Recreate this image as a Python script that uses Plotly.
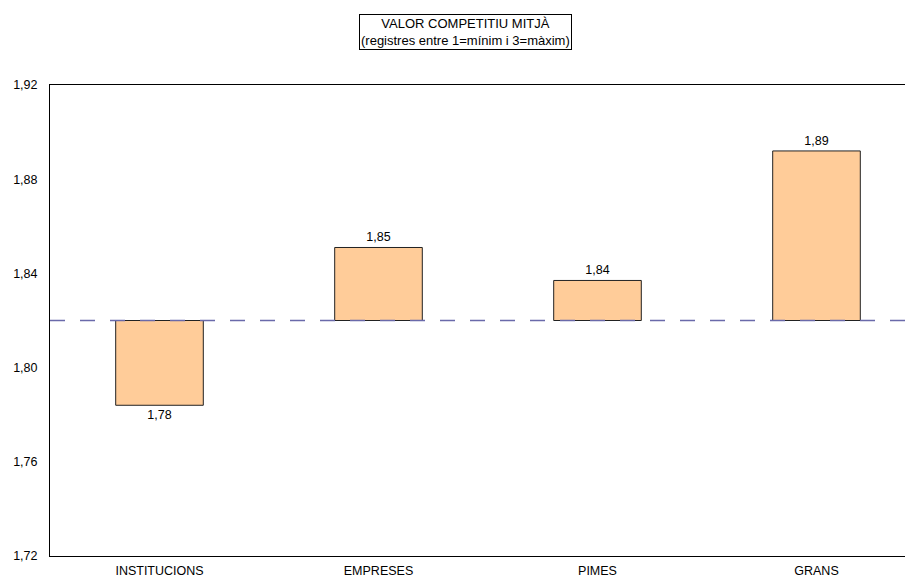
import plotly.graph_objects as go

categories = ["INSTITUCIONS", "EMPRESES", "PIMES", "GRANS"]
values = [1.784, 1.851, 1.837, 1.892]
reference_value = 1.82
y_ticks = [1.72, 1.76, 1.80, 1.84, 1.88, 1.92]
title_lines = ["VALOR COMPETITIU MITJÀ", "(registres entre 1=mínim i 3=màxim)"]

FONT = "Liberation Sans, Arial, sans-serif"
FS = 12.5

ML, MT, PW, PH = 42, 77, 871, 471

fig = go.Figure()
fig.add_trace(go.Bar(
    x=categories,
    y=[v - reference_value for v in values],
    base=reference_value,
    width=0.4,
    marker=dict(color="#FFCC99", line=dict(color="#222222", width=1)),
    text=[f"{v:.2f}".replace(".", ",") for v in values],
    textposition="outside",
    textfont=dict(family=FONT, size=FS, color="#000000"),
    cliponaxis=False,
    hoverinfo="skip",
))

fig.add_shape(type="line", xref="paper", yref="y", x0=0, x1=1,
              y0=reference_value, y1=reference_value,
              line=dict(color="#6a6aaa", width=1.5, dash="15px,15px"))

fig.add_annotation(
    xref="paper", yref="paper", x=(457 - ML) / PW, y=1 + (MT - 24) / PH,
    text="<br>".join(title_lines), showarrow=False,
    font=dict(family=FONT, size=13, color="#000000"),
    bordercolor="#000000", borderwidth=1, borderpad=1, bgcolor="#ffffff",
    xanchor="center", yanchor="middle",
)

fig.update_layout(
    width=913, height=580,
    margin=dict(l=ML, r=0, t=MT, b=580 - MT - PH),
    plot_bgcolor="#ffffff", paper_bgcolor="#ffffff",
    separators=",.",
    showlegend=False,
    font=dict(family=FONT, size=FS, color="#000000"),
    xaxis=dict(
        range=[-0.5, -0.5 + PW / 219],
        showline=True, linecolor="#000000", linewidth=1, mirror=True,
        showgrid=False, ticks="", zeroline=False,
        tickfont=dict(family=FONT, size=FS),
        ticklabelstandoff=3,
    ),
    yaxis=dict(
        range=[1.72, 1.92], tickvals=y_ticks, tickformat=".2f",
        showline=True, linecolor="#000000", linewidth=1,
        showgrid=False, ticks="", zeroline=False,
        tickfont=dict(family=FONT, size=FS),
        ticklabelstandoff=9,
    ),
)

fig.write_html("out.html")
